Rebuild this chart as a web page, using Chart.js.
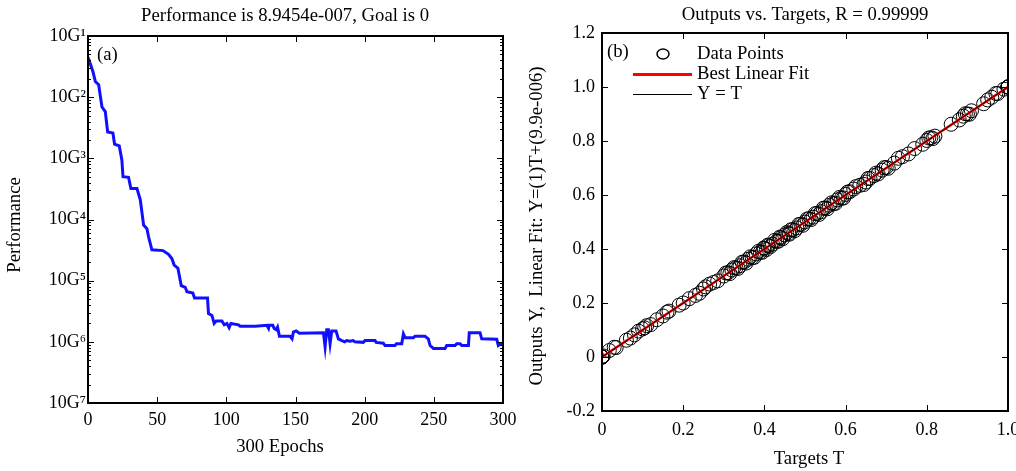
<!DOCTYPE html>
<html>
<head>
<meta charset="utf-8">
<script src="https://cdn.jsdelivr.net/npm/chart.js@4/dist/chart.umd.min.js"></script>
<style>
  html, body { margin: 0; padding: 0; background: #fff; overflow: hidden; }
  canvas { position: absolute; top: 0; }
  #perfChart { left: 0; }
  #regChart { left: 525px; }
</style>
</head>
<body>
<canvas id="perfChart" width="525" height="471"></canvas>
<canvas id="regChart" width="491" height="471"></canvas>
<script>
// (a) training performance
const perfEpochs = [0, 3.6, 5.3, 7.7, 10.1, 12.5, 14.2, 18, 19.2, 22.6, 24.5, 25.3, 29.3, 31, 35.4, 37.8, 40.2, 42.6, 43.8, 46.2,
  54.2, 58.2, 60.6, 62.3, 65, 67.4, 70.3, 71.5, 75.8, 77, 86.4, 87.1, 89.6, 91.2, 92.7, 96.8, 98.5, 100.4, 102, 103.3,
  108.8, 110, 121, 129.3, 130.5, 131, 133.6, 134.6, 136, 137, 138.4, 146.1, 147.5, 148.5, 150.4, 152.8, 170.2, 171.4, 172.6, 173.8,
  175, 176.2, 179.3, 181, 183.5, 185.6, 187, 189.3, 191.7, 192.9, 199, 200.3, 207.5, 208.3, 213.5, 214.7, 221.9, 223, 226.8, 228,
  229.2, 235.2, 236.4, 243.6, 246, 247.3, 249.7, 258.1, 259.3, 265.3, 266.6, 269, 270.2, 275, 275.6, 283.4, 284.6, 295.5, 296.6, 298.3, 300];
const perfValues = [4.5e-2, 2.6e-2, 1.8e-2, 1.6e-2, 6.9e-3, 5.8e-3, 2.7e-3, 2.6e-3, 1.7e-3, 1.6e-3, 9.3e-4, 5.0e-4, 4.9e-4, 3.2e-4, 3.2e-4, 2.1e-4, 8.1e-5, 7.1e-5, 5.2e-5, 3.2e-5,
  3.1e-5, 2.7e-5, 2.3e-5, 1.8e-5, 1.6e-5, 8.3e-6, 7.8e-6, 6.6e-6, 6.3e-6, 5.2e-6, 5.2e-6, 2.9e-6, 2.7e-6, 2.0e-6, 2.2e-6, 2.2e-6, 1.9e-6, 2.0e-6, 1.7e-6, 2.0e-6,
  1.9e-6, 1.8e-6, 1.8e-6, 1.86e-6, 1.66e-6, 1.86e-6, 1.86e-6, 1.66e-6, 1.58e-6, 1.74e-6, 1.23e-6, 1.23e-6, 1.12e-6, 1.45e-6, 1.51e-6, 1.38e-6, 1.41e-6, 8.3e-7, 1.58e-6, 1.58e-6,
  9.3e-7, 1.51e-6, 1.51e-6, 1.12e-6, 1.05e-6, 1.0e-6, 1.05e-6, 1.02e-6, 1.05e-6, 1.0e-6, 9.8e-7, 1.05e-6, 1.05e-6, 9.8e-7, 9.5e-7, 8.7e-7, 8.7e-7, 9.3e-7, 9.3e-7, 1.35e-6,
  1.17e-6, 1.17e-6, 1.23e-6, 1.23e-6, 1.12e-6, 8.7e-7, 7.8e-7, 7.8e-7, 8.7e-7, 8.7e-7, 9.3e-7, 9.3e-7, 8.7e-7, 8.7e-7, 1.41e-6, 1.41e-6, 1.12e-6, 1.10e-6, 8.7e-7, 9.3e-7, 9.5e-7];
const perfTicks = [1e-7, 1e-6, 1e-5, 1e-4, 1e-3, 1e-2, 1e-1];
const epochTicks = [0, 50, 100, 150, 200, 250, 300];

// (b) regression: targets and network outputs
const targets = [0, 0, 0, 0, 0, 0, 0.003, 0.018, 0.03, 0.035, 0.06, 0.07, 0.08, 0.09, 0.1, 0.105, 0.11, 0.12, 0.135, 0.15, 0.16, 0.165, 0.19,
  0.2, 0.215, 0.23, 0.24, 0.25, 0.255, 0.265, 0.275, 0.285, 0.3, 0.305, 0.31, 0.315, 0.32, 0.325, 0.33, 0.335, 0.34, 0.345, 0.35, 0.355, 0.36, 0.365, 0.37, 0.375, 0.38,
  0.385, 0.39, 0.395, 0.398, 0.4, 0.405, 0.408, 0.41, 0.415, 0.42, 0.425, 0.43, 0.435, 0.438, 0.44, 0.445, 0.45, 0.455, 0.46, 0.462, 0.465, 0.47, 0.475, 0.48, 0.485, 0.49, 0.495, 0.5, 0.505, 0.51,
  0.515, 0.52, 0.525, 0.53, 0.535, 0.54, 0.545, 0.55, 0.555, 0.56, 0.565, 0.57, 0.575, 0.58, 0.585, 0.59, 0.595, 0.6, 0.605, 0.61, 0.62, 0.625, 0.635, 0.645, 0.65, 0.655, 0.66, 0.67, 0.675, 0.68, 0.69, 0.695, 0.7, 0.705, 0.72, 0.73, 0.74,
  0.755, 0.77, 0.79, 0.8, 0.805, 0.81, 0.815, 0.82, 0.86, 0.88, 0.89, 0.895, 0.9, 0.905, 0.91, 0.94, 0.95, 0.96, 0.97, 0.975, 0.99, 1, 1, 1, 1, 1, 1];
const outputs = [0, 0, 0, 0, 0, 0, 0.004, 0.024, 0.036, 0.035, 0.062, 0.07, 0.082, 0.096, 0.104, 0.108, 0.116, 0.12, 0.138, 0.152, 0.166, 0.17, 0.192,
  0.2, 0.216, 0.228, 0.236, 0.252, 0.26, 0.27, 0.276, 0.282, 0.3, 0.311, 0.312, 0.309, 0.322, 0.331, 0.33, 0.328, 0.338, 0.351, 0.352, 0.348, 0.362, 0.371, 0.368, 0.369, 0.382,
  0.391, 0.388, 0.388, 0.404, 0.402, 0.398, 0.414, 0.412, 0.409, 0.418, 0.432, 0.428, 0.429, 0.444, 0.442, 0.438, 0.452, 0.461, 0.458, 0.455, 0.471, 0.472, 0.468, 0.478, 0.491, 0.492, 0.488, 0.5, 0.511, 0.512,
  0.509, 0.518, 0.531, 0.532, 0.528, 0.538, 0.551, 0.552, 0.549, 0.562, 0.571, 0.568, 0.569, 0.582, 0.591, 0.588, 0.589, 0.602, 0.611, 0.612, 0.622, 0.631, 0.636, 0.639, 0.648, 0.661, 0.662, 0.672, 0.681, 0.678, 0.692, 0.701, 0.702, 0.699, 0.718, 0.736, 0.742,
  0.752, 0.772, 0.788, 0.802, 0.811, 0.812, 0.809, 0.818, 0.862, 0.878, 0.892, 0.901, 0.9, 0.899, 0.912, 0.938, 0.952, 0.962, 0.976, 0.976, 0.992, 1, 1, 1, 1, 1, 1];
const fitT = [0, 1];
const fitY = [0.0000099, 1.0000099];
const unitTicks = [-0.2, 0, 0.2, 0.4, 0.6, 0.8, 1.0, 1.2];

const FONT = 'Liberation Serif, Times New Roman, serif';
const SUP = { '1': '\u00b9', '2': '\u00b2', '3': '\u00b3', '4': '\u2074', '5': '\u2075', '6': '\u2076', '7': '\u2077' };

// MATLAB-ish box: inner ticks on all four sides, frame, titles, tags
const matlabAxes = {
  id: 'matlabAxes',
  afterDraw(chart, args, o) {
    const { ctx, chartArea: a, scales: { x, y } } = chart;
    const seg = (x1, y1, x2, y2) => { ctx.beginPath(); ctx.moveTo(x1, y1); ctx.lineTo(x2, y2); ctx.stroke(); };
    ctx.save();
    ctx.strokeStyle = '#000';
    ctx.lineWidth = 1;
    x.ticks.forEach(t => {
      const px = Math.round(x.getPixelForValue(t.value)) + 0.5;
      seg(px, a.bottom, px, a.bottom - 6);
      seg(px, a.top, px, a.top + 6);
    });
    y.ticks.forEach(t => {
      const py = Math.round(y.getPixelForValue(t.value)) + 0.5;
      seg(a.left, py, a.left + 6, py);
      seg(a.right, py, a.right - 6, py);
    });
    if (o.minor) {
      for (let d = -7; d < -1; d++) {
        for (let m = 2; m < 10; m++) {
          const py = Math.round(y.getPixelForValue(m * Math.pow(10, d))) + 0.5;
          seg(a.left, py, a.left + 3, py);
          seg(a.right, py, a.right - 3, py);
        }
      }
    }
    ctx.lineWidth = 2;
    ctx.strokeRect(a.left, a.top, a.width, a.height);

    ctx.fillStyle = '#000';
    ctx.font = '18.7px ' + FONT;
    ctx.textBaseline = 'middle';
    ctx.textAlign = 'center';
    ctx.fillText(o.title, o.titleAt[0], o.titleAt[1]);
    ctx.fillText(o.xTitle, o.xTitleAt[0], o.xTitleAt[1]);
    ctx.save();
    ctx.translate(o.yTitleAt[0], o.yTitleAt[1]);
    ctx.rotate(-Math.PI / 2);
    ctx.fillText(o.yTitle, 0, 0);
    ctx.restore();
    ctx.textAlign = 'left';
    ctx.fillText(o.tag, o.tagAt[0], o.tagAt[1]);

    if (o.legend) {
      const ds = chart.data.datasets;
      const lg = o.legend;
      ctx.lineWidth = 1.5;
      ctx.strokeStyle = '#000';
      ctx.beginPath();
      ctx.ellipse(lg.x + 30, lg.y, 6, 5, 0, 0, Math.PI * 2);
      ctx.stroke();
      ctx.fillText(ds[2].label, lg.x + 64, lg.y);
      ctx.strokeStyle = ds[1].borderColor;
      ctx.lineWidth = 3;
      seg(lg.x, lg.y + 20.5, lg.x + 59, lg.y + 20.5);
      ctx.fillText(ds[1].label, lg.x + 64, lg.y + 20);
      ctx.strokeStyle = ds[0].borderColor;
      ctx.lineWidth = 1;
      seg(lg.x, lg.y + 40.5, lg.x + 59, lg.y + 40.5);
      ctx.fillText(ds[0].label, lg.x + 64, lg.y + 40);
    }
    ctx.restore();
  }
};

Chart.defaults.font.family = FONT;
Chart.defaults.font.size = 18;
Chart.defaults.color = '#000';

new Chart(document.getElementById('perfChart'), {
  type: 'line',
  data: {
    datasets: [{
      label: 'Train',
      data: perfEpochs.map((e, i) => ({ x: e, y: perfValues[i] })),
      borderColor: '#1010ff',
      borderWidth: 3,
      pointRadius: 0,
      tension: 0,
      fill: false
    }]
  },
  options: {
    responsive: false,
    animation: false,
    layout: { padding: { top: 36, right: 22, bottom: 0, left: 0 } },
    plugins: {
      legend: { display: false },
      tooltip: { enabled: false },
      matlabAxes: {
        minor: true,
        title: 'Performance is 8.9454e-007, Goal is 0', titleAt: [285, 16],
        xTitle: '300 Epochs', xTitleAt: [280, 447],
        yTitle: 'Performance', yTitleAt: [15, 225],
        tag: '(a)', tagAt: [97, 55]
      }
    },
    scales: {
      x: {
        type: 'linear', min: 0, max: 300,
        grid: { display: false, drawTicks: false },
        border: { display: false },
        afterBuildTicks: s => { s.ticks = epochTicks.map(v => ({ value: v })); },
        afterFit: s => { s.height = 68; s.paddingLeft = 0; s.paddingRight = 0; },
        ticks: { padding: 6, maxRotation: 0, autoSkip: false }
      },
      y: {
        type: 'logarithmic', min: 1e-7, max: 1e-1,
        grid: { display: false, drawTicks: false },
        border: { display: false },
        afterBuildTicks: s => { s.ticks = perfTicks.map(v => ({ value: v })); },
        afterFit: s => { s.width = 88; s.paddingTop = 0; s.paddingBottom = 0; },
        ticks: {
          padding: 2, autoSkip: false,
          callback: v => '10G' + SUP[String(Math.round(-Math.log10(v)))]
        }
      }
    }
  },
  plugins: [matlabAxes]
});

new Chart(document.getElementById('regChart'), {
  type: 'scatter',
  data: {
    datasets: [{
      label: 'Y = T',
      data: fitT.map(t => ({ x: t, y: t })),
      showLine: true, borderColor: '#000', borderWidth: 1, pointRadius: 0, order: 0
    }, {
      label: 'Best Linear Fit',
      data: fitT.map((t, i) => ({ x: t, y: fitY[i] })),
      showLine: true, borderColor: '#ff0000', borderWidth: 2.5, pointRadius: 0, order: 1
    }, {
      label: 'Data Points',
      data: targets.map((t, i) => ({ x: t, y: outputs[i] })),
      showLine: false, pointRadius: 7, pointBorderWidth: 1, borderColor: '#000',
      pointBackgroundColor: 'rgba(0,0,0,0)', order: 2
    }]
  },
  options: {
    responsive: false,
    animation: false,
    layout: { padding: { top: 33, right: 8, bottom: 0, left: 0 } },
    plugins: {
      legend: { display: false },
      tooltip: { enabled: false },
      matlabAxes: {
        title: 'Outputs vs. Targets, R = 0.99999', titleAt: [280, 15],
        xTitle: 'Targets T', xTitleAt: [284, 459],
        yTitle: 'Outputs Y,  Linear Fit: Y=(1)T+(9.9e-006)', yTitleAt: [12, 226],
        tag: '(b)', tagAt: [82, 52],
        legend: { x: 108, y: 54 }
      }
    },
    scales: {
      x: {
        type: 'linear', min: 0, max: 1,
        grid: { display: false, drawTicks: false },
        border: { display: false },
        afterBuildTicks: s => { s.ticks = unitTicks.filter(v => v >= 0 && v <= 1).map(v => ({ value: v })); },
        afterFit: s => { s.height = 60; s.paddingLeft = 0; s.paddingRight = 0; },
        ticks: { padding: 8, maxRotation: 0, autoSkip: false, callback: v => v === 0 ? '0' : v.toFixed(1) }
      },
      y: {
        type: 'linear', min: -0.2, max: 1.2,
        grid: { display: false, drawTicks: false },
        border: { display: false },
        afterBuildTicks: s => { s.ticks = unitTicks.map(v => ({ value: v })); },
        afterFit: s => { s.width = 77; s.paddingTop = 0; s.paddingBottom = 0; },
        ticks: { padding: 7, autoSkip: false, callback: v => v === 0 ? '0' : v.toFixed(1) }
      }
    }
  },
  plugins: [matlabAxes]
});
</script>
</body>
</html>
